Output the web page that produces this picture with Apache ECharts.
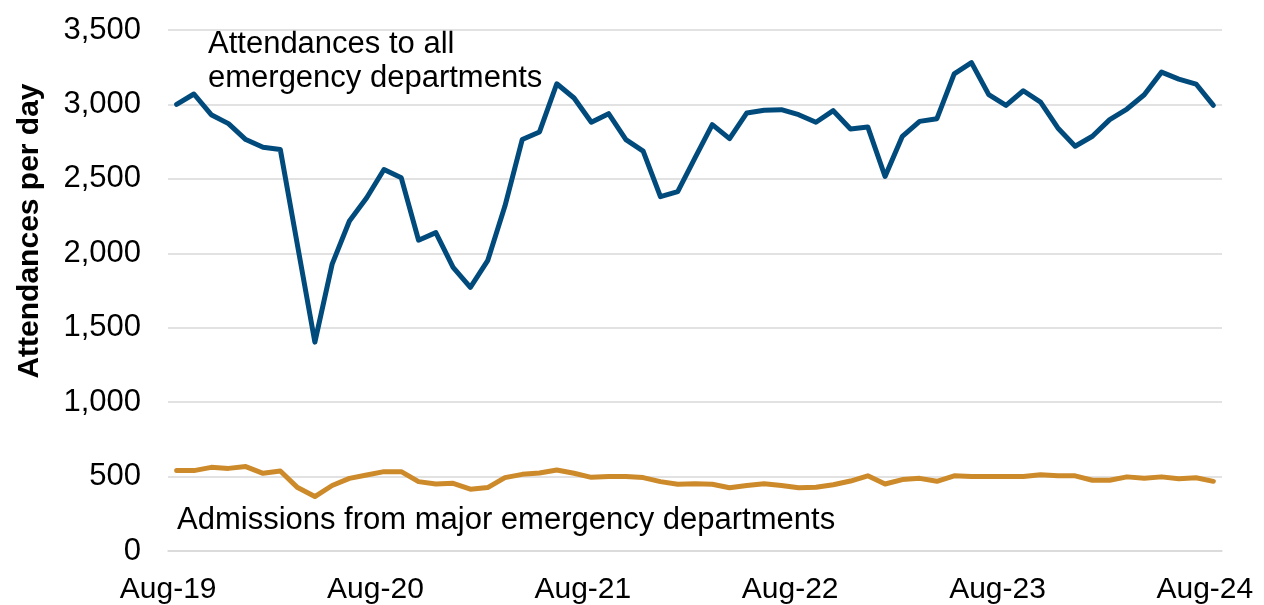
<!DOCTYPE html>
<html>
<head>
<meta charset="utf-8">
<script src="https://cdn.jsdelivr.net/npm/echarts@6/dist/echarts.min.js"></script>
<style>
  html, body { margin: 0; padding: 0; background: #fff; }
  #chart { width: 1264px; height: 605px; }
</style>
</head>
<body>
<div id="chart"></div>
<script>
// month labels Aug-19 .. Aug-24
var monthNames = ['Jan','Feb','Mar','Apr','May','Jun','Jul','Aug','Sep','Oct','Nov','Dec'];
var months = [];
for (var k = 0; k < 61; k++) {
    var m = (7 + k) % 12;
    var yr = 19 + Math.floor((7 + k) / 12);
    months.push(monthNames[m] + '-' + yr);
}

// attendances to all emergency departments, per day
var attendances = [
    3000, 3070, 2931, 2871, 2764, 2712, 2697, 2050, 1403, 1927,
    2217, 2373, 2563, 2507, 2088, 2139, 1905, 1771, 1950, 2317,
    2764, 2815, 3139, 3043, 2880, 2938, 2764, 2686, 2380, 2414,
    2641, 2864, 2770, 2943, 2961, 2965, 2931, 2880, 2958, 2835,
    2849, 2516, 2786, 2886, 2904, 3205, 3281, 3066, 2994, 3092,
    3016, 2842, 2719, 2786, 2898, 2969, 3065, 3217, 3170, 3137,
    2994
];

// admissions from major emergency departments, per day
var admissions = [
    540, 540, 562, 555, 567, 522, 537, 426, 366, 440,
    488, 511, 533, 533, 466, 450, 455, 415, 426, 493,
    515, 524, 544, 522, 495, 500, 500, 493, 466, 448,
    452, 448, 425, 440, 452, 440, 425, 428, 445, 470,
    505, 450, 480, 488, 468, 505, 500, 500, 500, 500,
    512, 505, 505, 475, 475, 498, 488, 498, 485, 492,
    468
];

var FONT = 'Liberation Sans, Arial, sans-serif';

var option = {
    animation: false,
    backgroundColor: '#fff',
    grid: {
        left: 168,
        right: 42,
        top: 30,
        bottom: 52,
        containLabel: false
    },
    xAxis: {
        type: 'category',
        data: months,
        boundaryGap: true,
        axisLine: { lineStyle: { color: '#d9d9d9', width: 1.5 } },
        axisTick: {
            interval: 5,
            alignWithLabel: false,
            length: 9,
            lineStyle: { color: '#d9d9d9', width: 1.5 }
        },
        axisLabel: {
            interval: 11,
            margin: 24,
            color: '#000',
            fontFamily: FONT,
            fontSize: 30,
            formatter: function (v) { return '{a|' + v + '}'; },
            rich: {
                a: { padding: [0, 17, 0, 0], fontSize: 30, fontFamily: FONT, color: '#000' }
            }
        },
        splitLine: { show: false }
    },
    yAxis: {
        type: 'value',
        min: 0,
        max: 3500,
        interval: 500,
        axisLine: { show: false },
        axisTick: { show: false },
        axisLabel: {
            margin: 27,
            color: '#000',
            fontFamily: FONT,
            fontSize: 31,
            formatter: function (v) { return v.toLocaleString('en-GB'); }
        },
        splitLine: { lineStyle: { color: '#d9d9d9', width: 1.5 } }
    },
    graphic: [
        {
            type: 'text',
            x: 30,
            y: 231,
            rotation: Math.PI / 2,
            style: {
                text: 'Attendances per day',
                font: 'bold 30px ' + FONT,
                fill: '#000',
                align: 'center',
                verticalAlign: 'middle'
            }
        },
        {
            type: 'text',
            x: 208,
            y: 27,
            style: {
                text: 'Attendances to all\nemergency departments',
                font: '31px ' + FONT,
                lineHeight: 34,
                fill: '#000'
            }
        },
        {
            type: 'text',
            x: 177,
            y: 505,
            style: {
                text: 'Admissions from major emergency departments',
                font: '31px ' + FONT,
                fill: '#000'
            }
        }
    ],
    series: [
        {
            name: 'Attendances to all emergency departments',
            type: 'line',
            data: attendances,
            symbol: 'none',
            lineStyle: { color: '#004a7c', width: 5, cap: 'round', join: 'round' },
            itemStyle: { color: '#004a7c' }
        },
        {
            name: 'Admissions from major emergency departments',
            type: 'line',
            data: admissions,
            symbol: 'none',
            lineStyle: { color: '#cd8a2b', width: 5, cap: 'round', join: 'round' },
            itemStyle: { color: '#cd8a2b' }
        }
    ]
};

var chart = echarts.init(document.getElementById('chart'), null, { renderer: 'canvas' });
chart.setOption(option, true);
</script>
</body>
</html>
